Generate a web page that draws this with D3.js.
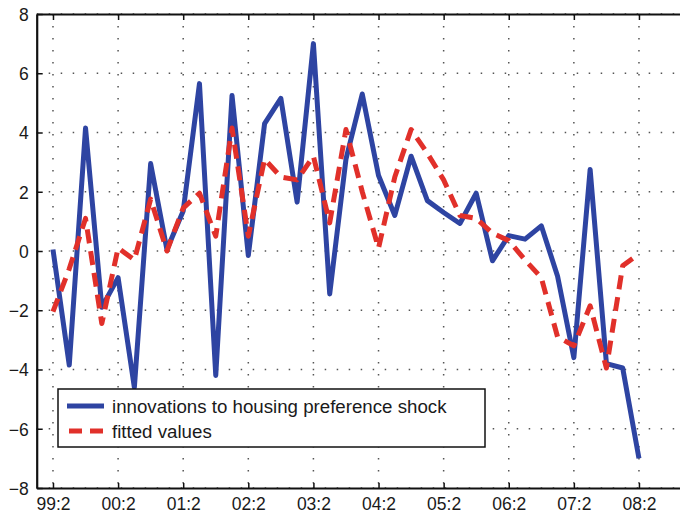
<!DOCTYPE html>
<html>
<head>
<meta charset="utf-8">
<script src="https://cdn.jsdelivr.net/npm/d3@7"></script>
<style>
  body { margin: 0; background: #fff; }
  svg { font-family: "Liberation Sans", Arial, Helvetica, sans-serif; }
</style>
</head>
<body>
<main></main>
<script>
// quarters 99:2 .. 08:2
const periods = [
  "99:2","99:3","99:4","00:1","00:2","00:3","00:4","01:1","01:2","01:3","01:4",
  "02:1","02:2","02:3","02:4","03:1","03:2","03:3","03:4","04:1","04:2","04:3","04:4",
  "05:1","05:2","05:3","05:4","06:1","06:2","06:3","06:4","07:1","07:2","07:3","07:4",
  "08:1","08:2"
]
const innovations = [
  0.05, -3.85, 4.15, -1.9, -0.9, -4.6, 2.95, 0.05, 1.35, 5.65, -4.2, 5.25, -0.15,
  4.3, 5.15, 1.65, 7.0, -1.45, 3.1, 5.3, 2.55, 1.2, 3.2, 1.7, 1.3, 0.93, 1.95,
  -0.33, 0.52, 0.4, 0.85, -0.85, -3.6, 2.75, -3.8, -3.95, -7.0
]
const fitted = [
  -2.05, -0.6, 1.1, -2.45, 0.1, -0.3, 1.75, 0.0, 1.45, 1.95, 0.5, 4.15, 0.5,
  3.1, 2.5, 2.4, 3.2, 0.95, 4.1, 2.0, 0.1, 2.5, 4.1, 3.3, 2.4, 1.2, 1.1,
  0.6, 0.35, -0.3, -0.9, -2.9, -3.2, -1.85, -3.95, -0.5, -0.1
]
const yTicks = [-8, -6, -4, -2, 0, 2, 4, 6, 8]
const seriesNames = ["innovations to housing preference shock", "fitted values"]

const width = 680, height = 515
const blue = "#2e44a2", red = "#e1302a"

const x = d3.scaleLinear().domain([-1, periods.length + 2]).range([36.7, 687.8])
const y = d3.scaleLinear().domain([-8, 8]).range([488, 14])
const xTickIdx = periods.map((p, i) => i).filter(i => periods[i].endsWith(":2"))

const svg = d3.select("main").append("svg")
  .attr("width", width)
  .attr("height", height)

// dotted grid
const grid = svg.append("g").attr("stroke", "#555").attr("stroke-width", 1.5)
  .attr("stroke-dasharray", "1.5,10.5")
grid.selectAll(".gx").data(xTickIdx).enter().append("line")
  .attr("x1", d => x(d)).attr("x2", d => x(d))
  .attr("y1", y(8)).attr("y2", y(-8))
grid.selectAll(".gy").data(yTicks).enter().append("line")
  .attr("x1", x(-1)).attr("x2", width)
  .attr("y1", d => y(d)).attr("y2", d => y(d))

// lines
const line = d3.line().x((d, i) => x(i)).y(d => y(d))
svg.append("path").datum(innovations)
  .attr("fill", "none").attr("stroke", blue).attr("stroke-width", 5)
  .attr("stroke-linejoin", "round")
  .attr("d", line)
svg.append("path").datum(fitted)
  .attr("fill", "none").attr("stroke", red).attr("stroke-width", 5)
  .attr("stroke-dasharray", "14,8")
  .attr("stroke-linejoin", "round")
  .attr("d", line)

// axes
const xAxis = svg.append("g")
  .attr("transform", `translate(0,${y(-8)})`)
  .call(d3.axisBottom(x).tickValues(xTickIdx).tickFormat(i => periods[i])
    .tickSizeInner(-5).tickSizeOuter(0).tickPadding(10))
const xTop = svg.append("g")
  .attr("transform", `translate(0,${y(8)})`)
  .call(d3.axisTop(x).tickValues(xTickIdx).tickFormat("")
    .tickSizeInner(-6).tickSizeOuter(0))
const yAxis = svg.append("g")
  .attr("transform", `translate(${x(-1)},0)`)
  .call(d3.axisLeft(y).tickValues(yTicks).tickFormat(d => d < 0 ? "\u2212" + Math.abs(d) : d)
    .tickSizeInner(-6).tickSizeOuter(0).tickPadding(8))

for (const a of [xAxis, xTop, yAxis]) {
  a.select(".domain").attr("stroke", "#111").attr("stroke-width", 2.2)
  a.selectAll(".tick line").attr("stroke", "#111").attr("stroke-width", 1.5)
  a.selectAll("text").attr("fill", "#1a1a1a").attr("font-size", 17.5)
    .attr("font-family", "Liberation Sans, Arial, sans-serif")
}
xAxis.selectAll("text").attr("dy", "0.71em")
yAxis.selectAll("text").attr("dy", "0.36em")

// legend
const lg = svg.append("g")
lg.append("rect")
  .attr("x", 58).attr("y", 389).attr("width", 427).attr("height", 58)
  .attr("fill", "#fff").attr("stroke", "#111").attr("stroke-width", 1.5)
const items = lg.selectAll(".item").data(seriesNames).enter().append("g")
  .attr("transform", (d, i) => `translate(67, ${406 + i * 25})`)
items.append("line")
  .attr("x1", 0).attr("x2", 37)
  .attr("stroke", (d, i) => i ? red : blue).attr("stroke-width", 5)
  .attr("stroke-dasharray", (d, i) => i ? "13,8" : null)
  .attr("transform", (d, i) => i ? "translate(2,0)" : null)
items.append("text")
  .attr("x", 45).attr("dy", "0.36em")
  .attr("font-size", 18.7).attr("fill", "#1a1a1a")
  .text(d => d)
</script>
</body>
</html>
